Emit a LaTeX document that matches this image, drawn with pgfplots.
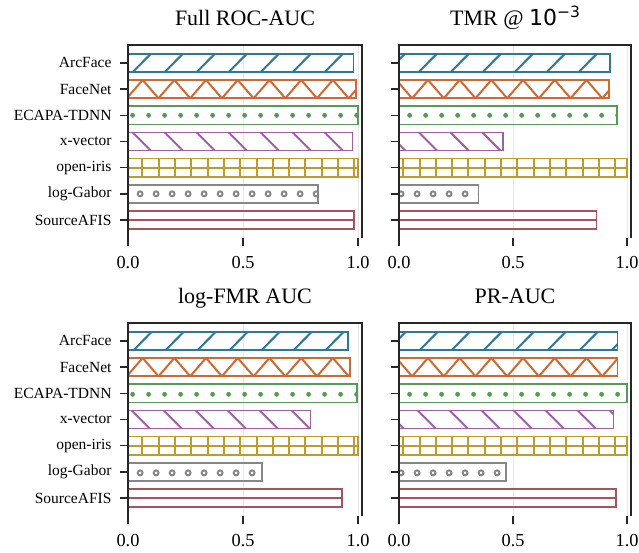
\documentclass[border=0pt]{standalone}
\usepackage{fontspec}
\setmainfont{Liberation Serif}
\newfontfamily\dejavu{DejaVu Sans}
\usepackage{pgfplots}
\pgfplotsset{compat=1.18}
\usetikzlibrary{patterns}

\definecolor{cA}{RGB}{45,120,152}
\definecolor{cB}{RGB}{205,105,50}
\definecolor{cC}{RGB}{88,155,88}
\definecolor{cD}{RGB}{160,95,165}
\definecolor{cE}{RGB}{190,155,45}
\definecolor{cF}{RGB}{135,135,135}
\definecolor{cG}{RGB}{165,85,90}
\definecolor{spine}{RGB}{38,38,38}

% hatch patterns (tile height = vertical distance between the two rows of panels)
\pgfdeclarepatternformonly{hArc}{\pgfpointorigin}{\pgfpoint{31.7pt}{278pt}}{\pgfpoint{31.7pt}{278pt}}{%
  \pgfsetlinewidth{2pt}%
  \pgfpathmoveto{\pgfpoint{5.35pt}{200.56pt}}%
  \pgfpathlineto{\pgfpoint{26.35pt}{221.56pt}}%
  \pgfusepath{stroke}}
\pgfdeclarepatternformonly{hFace}{\pgfpoint{-1pt}{0pt}}{\pgfpoint{32.7pt}{278pt}}{\pgfpoint{31.7pt}{278pt}}{%
  \pgfsetlinewidth{2pt}%
  \pgfpathmoveto{\pgfpoint{0pt}{175.7pt}}%
  \pgfpathlineto{\pgfpoint{15.85pt}{194.04pt}}%
  \pgfpathlineto{\pgfpoint{31.7pt}{175.7pt}}%
  \pgfusepath{stroke}}
\pgfdeclarepatternformonly{hEcapa}{\pgfpointorigin}{\pgfpoint{16.3pt}{278pt}}{\pgfpoint{16.3pt}{278pt}}{%
  \pgfpathcircle{\pgfpoint{2.7pt}{158.69pt}}{2.5pt}%
  \pgfusepath{fill}}
\pgfdeclarepatternformonly{hXvec}{\pgfpointorigin}{\pgfpoint{31.7pt}{278pt}}{\pgfpoint{31.7pt}{278pt}}{%
  \pgfsetlinewidth{2pt}%
  \pgfpathmoveto{\pgfpoint{5.35pt}{143pt}}%
  \pgfpathlineto{\pgfpoint{26.35pt}{122pt}}%
  \pgfusepath{stroke}}
\pgfdeclarepatternformonly{hIris}{\pgfpoint{-1.5pt}{0pt}}{\pgfpoint{17.8pt}{278pt}}{\pgfpoint{16.3pt}{278pt}}{%
  \pgfsetlinewidth{2pt}%
  \pgfpathmoveto{\pgfpoint{12pt}{96.3pt}}%
  \pgfpathlineto{\pgfpoint{12pt}{116.3pt}}%
  \pgfpathmoveto{\pgfpoint{-1.5pt}{106.31pt}}%
  \pgfpathlineto{\pgfpoint{17.8pt}{106.31pt}}%
  \pgfusepath{stroke}}
\pgfdeclarepatternformonly{hGabor}{\pgfpointorigin}{\pgfpoint{16.3pt}{278pt}}{\pgfpoint{16.3pt}{278pt}}{%
  \pgfsetlinewidth{2pt}%
  \pgfpathcircle{\pgfpoint{10.5pt}{80.13pt}}{2.5pt}%
  \pgfusepath{stroke}}
\pgfdeclarepatternformonly{hAfis}{\pgfpoint{-2pt}{0pt}}{\pgfpoint{102pt}{278pt}}{\pgfpoint{100pt}{278pt}}{%
  \pgfsetlinewidth{2pt}%
  \pgfpathmoveto{\pgfpoint{-2pt}{53.94pt}}%
  \pgfpathlineto{\pgfpoint{102pt}{53.94pt}}%
  \pgfusepath{stroke}}

\pgfplotsset{
  bstyle/.style={xbar, bar width=0.7, bar shift=0pt, line width=1.6pt},
  panel/.style={
    scale only axis, height=193pt,
    xmin=0, xmax=1.017, ymin=-0.685, ymax=6.685,
    xtick={0,0.5,1}, xticklabels={0.0,0.5,1.0},
    ytick={0,1,2,3,4,5,6},
    tick align=outside, xtick pos=lower, ytick pos=left,
    major tick length=8pt,
    every tick/.style={line width=1.4pt, spine},
    xmajorgrids, major grid style={line width=0.8pt, black!9},
    axis line style={draw=none},
    xticklabel style={font=\fontsize{18.3}{20}\selectfont, yshift=-7pt},
    yticklabel style={font=\fontsize{15.5}{18}\selectfont, xshift=-5pt},
    title style={font=\fontsize{22}{26}\selectfont, at={(0.5,1)}, anchor=base, yshift=13.3pt},
    after end axis/.append code={
      \draw[line width=1.4pt, spine] (rel axis cs:0,0) -- (rel axis cs:0,1) -- (rel axis cs:1,1) -- (rel axis cs:1,0);
    },
  },
  leftpanel/.style={panel, width=234pt,
    yticklabels={SourceAFIS,log-Gabor,open-iris,x-vector,ECAPA-TDNN,FaceNet,ArcFace}},
  rightpanel/.style={panel, width=232pt, yticklabels={,,,,,,}},
}

% order of arguments: ArcFace, FaceNet, ECAPA-TDNN, x-vector, open-iris, log-Gabor, SourceAFIS
\newcommand{\bars}[7]{%
  \addplot[bstyle, draw=cA, pattern=hArc, pattern color=cA] coordinates {(#1,6)};
  \addplot[bstyle, draw=cB, pattern=hFace, pattern color=cB] coordinates {(#2,5)};
  \addplot[bstyle, draw=cC, pattern=hEcapa, pattern color=cC] coordinates {(#3,4)};
  \addplot[bstyle, draw=cD, pattern=hXvec, pattern color=cD] coordinates {(#4,3)};
  \addplot[bstyle, draw=cE, pattern=hIris, pattern color=cE] coordinates {(#5,2)};
  \addplot[bstyle, draw=cF, pattern=hGabor, pattern color=cF] coordinates {(#6,1)};
  \addplot[bstyle, draw=cG, pattern=hAfis, pattern color=cG] coordinates {(#7,0)};
}

\begin{document}
\begin{tikzpicture}
\path[use as bounding box] (0,0) rectangle (639pt,552pt);

\begin{axis}[leftpanel, at={(128pt,314pt)}, anchor=south west, title={Full ROC-AUC}]
\bars{0.980}{0.991}{1.000}{0.975}{1.000}{0.826}{0.981}
\end{axis}

\begin{axis}[rightpanel, at={(399pt,314pt)}, anchor=south west,
  title={TMR @ {\dejavu 10\raisebox{8.3pt}{\fontsize{15.5}{18}\selectfont −3}}}]
\bars{0.926}{0.920}{0.955}{0.455}{1.000}{0.348}{0.866}
\end{axis}

\begin{axis}[leftpanel, at={(128pt,36pt)}, anchor=south west, title={log-FMR AUC}]
\bars{0.957}{0.964}{0.995}{0.793}{1.000}{0.583}{0.931}
\end{axis}

\begin{axis}[rightpanel, at={(399pt,36pt)}, anchor=south west, title={PR-AUC}]
\bars{0.957}{0.957}{1.000}{0.941}{1.000}{0.469}{0.952}
\end{axis}
\end{tikzpicture}
\end{document}
